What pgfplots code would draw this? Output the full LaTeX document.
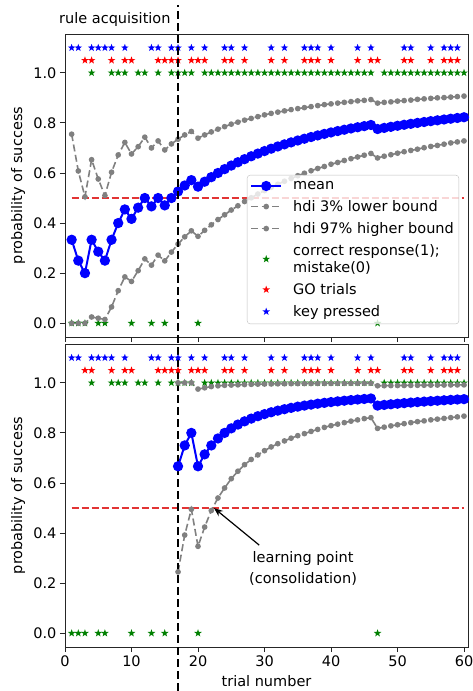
\documentclass[border=0pt]{standalone}
\usepackage{fontspec}
\setmainfont{DejaVu Sans}
\usepackage{pgfplots}
\usepackage{pgfplotstable}
\pgfplotsset{compat=1.18}
\usetikzlibrary{arrows.meta}

\definecolor{mblue}{HTML}{0000FF}
\definecolor{mred}{HTML}{FF0000}
\definecolor{mgreen}{HTML}{008000}
\definecolor{mgray}{HTML}{808080}
\definecolor{hred}{HTML}{E23434}

\newcommand\fs{\fontsize{14.5}{17}\selectfont}

% filled five-pointed star, like matplotlib's '*'
\pgfdeclareplotmark{fstar}{%
  \pgfpathmoveto{\pgfpointpolar{90}{\pgfplotmarksize}}%
  \pgfpathlineto{\pgfpointpolar{126}{0.4\pgfplotmarksize}}%
  \pgfpathlineto{\pgfpointpolar{162}{\pgfplotmarksize}}%
  \pgfpathlineto{\pgfpointpolar{198}{0.4\pgfplotmarksize}}%
  \pgfpathlineto{\pgfpointpolar{234}{\pgfplotmarksize}}%
  \pgfpathlineto{\pgfpointpolar{270}{0.4\pgfplotmarksize}}%
  \pgfpathlineto{\pgfpointpolar{306}{\pgfplotmarksize}}%
  \pgfpathlineto{\pgfpointpolar{342}{0.4\pgfplotmarksize}}%
  \pgfpathlineto{\pgfpointpolar{18}{\pgfplotmarksize}}%
  \pgfpathlineto{\pgfpointpolar{54}{0.4\pgfplotmarksize}}%
  \pgfpathclose
  \pgfusepathqfill
}

% all trials: mean and 94% hdi
\pgfplotstableread{
x mean lo hi
1 0.3333 0.000 0.755
2 0.2500 0.000 0.608
3 0.2000 0.000 0.505
4 0.3333 0.025 0.653
5 0.2857 0.020 0.576
6 0.2500 0.015 0.510
7 0.3333 0.065 0.603
8 0.4000 0.130 0.672
9 0.4545 0.185 0.722
10 0.4167 0.167 0.676
11 0.4615 0.210 0.705
12 0.5000 0.257 0.743
13 0.4667 0.232 0.700
14 0.5000 0.272 0.728
15 0.4706 0.249 0.692
16 0.5000 0.284 0.716
17 0.5263 0.316 0.735
18 0.5500 0.345 0.752
19 0.5714 0.369 0.766
20 0.5455 0.347 0.739
21 0.5652 0.371 0.752
22 0.5833 0.393 0.764
23 0.6000 0.414 0.775
24 0.6154 0.433 0.785
25 0.6296 0.452 0.795
26 0.6429 0.469 0.803
27 0.6552 0.486 0.811
28 0.6667 0.501 0.818
29 0.6774 0.516 0.825
30 0.6875 0.530 0.832
31 0.6970 0.543 0.838
32 0.7059 0.555 0.843
33 0.7143 0.567 0.848
34 0.7222 0.578 0.853
35 0.7297 0.589 0.857
36 0.7368 0.599 0.861
37 0.7436 0.609 0.865
38 0.7500 0.618 0.869
39 0.7561 0.626 0.873
40 0.7619 0.635 0.876
41 0.7674 0.642 0.879
42 0.7727 0.650 0.882
43 0.7778 0.657 0.885
44 0.7826 0.664 0.888
45 0.7872 0.671 0.890
46 0.7917 0.678 0.893
47 0.7755 0.660 0.879
48 0.7800 0.667 0.882
49 0.7843 0.673 0.884
50 0.7885 0.679 0.887
51 0.7925 0.685 0.889
52 0.7963 0.690 0.891
53 0.8000 0.695 0.894
54 0.8036 0.701 0.896
55 0.8070 0.706 0.898
56 0.8103 0.710 0.900
57 0.8136 0.715 0.901
58 0.8167 0.720 0.903
59 0.8197 0.724 0.905
60 0.8226 0.728 0.907
}\toptab

% from trial 17 on
\pgfplotstableread{
x mean lo hi
17 0.6667 0.245 1.000
18 0.7500 0.392 1.000
19 0.8000 0.495 1.000
20 0.6667 0.347 0.975
21 0.7143 0.424 0.980
22 0.7500 0.490 0.985
23 0.7778 0.540 0.988
24 0.8000 0.580 0.990
25 0.8182 0.617 0.991
26 0.8333 0.647 0.992
27 0.8462 0.673 0.993
28 0.8571 0.694 0.994
29 0.8667 0.712 0.9947
30 0.8750 0.729 0.9952
31 0.8824 0.744 0.9955
32 0.8889 0.757 0.9960
33 0.8947 0.768 0.9963
34 0.9000 0.779 0.9966
35 0.9048 0.789 0.9968
36 0.9091 0.797 0.9970
37 0.9130 0.806 0.9972
38 0.9167 0.814 0.9974
39 0.9200 0.822 0.9975
40 0.9231 0.829 0.9976
41 0.9259 0.835 0.9977
42 0.9286 0.841 0.9978
43 0.9310 0.847 0.9979
44 0.9333 0.852 0.9980
45 0.9355 0.857 0.9981
46 0.9375 0.861 0.9982
47 0.9091 0.818 0.9882
48 0.9118 0.823 0.9885
49 0.9143 0.828 0.9888
50 0.9167 0.8325 0.9891
51 0.9189 0.837 0.9894
52 0.9211 0.841 0.9897
53 0.9231 0.845 0.9900
54 0.9250 0.848 0.9903
55 0.9268 0.852 0.9906
56 0.9286 0.855 0.9909
57 0.9302 0.858 0.9912
58 0.9318 0.861 0.9914
59 0.9333 0.864 0.9916
60 0.9348 0.867 0.9918
}\bottab

% correct response (1) / mistake (0)
\pgfplotstableread{
x y
1 0
2 0
3 0
4 1
5 0
6 0
7 1
8 1
9 1
10 0
11 1
12 1
13 0
14 1
15 0
16 1
17 1
18 1
19 1
20 0
21 1
22 1
23 1
24 1
25 1
26 1
27 1
28 1
29 1
30 1
31 1
32 1
33 1
34 1
35 1
36 1
37 1
38 1
39 1
40 1
41 1
42 1
43 1
44 1
45 1
46 1
47 0
48 1
49 1
50 1
51 1
52 1
53 1
54 1
55 1
56 1
57 1
58 1
59 1
60 1
}\resptab

\pgfplotsset{
  panel/.style={
    width=403pt, height=303pt, scale only axis,
    xmin=0, xmax=60.6, ymin=-0.055, ymax=1.155,
    xtick={0,10,...,60},
    ytick={0,0.2,0.4,0.6,0.8,1.0},
    yticklabels={0.0,0.2,0.4,0.6,0.8,1.0},
    tick align=outside, major tick length=5pt, tick pos=left,
    axis line style={line width=0.9pt, black!85},
    tick style={line width=0.9pt, black!85},
    tick label style={font=\fs},
    ylabel={probability of success},
    every axis y label/.style={at={(axis description cs:-0.1166,0.5)}, rotate=90, anchor=center, font=\fs},
    clip=false,
    legend image code/.code={\draw[mark repeat=2,mark phase=2,##1] plot coordinates {(0pt,0pt) (15pt,0pt) (30pt,0pt)};},
  },
  meanline/.style={mblue, line width=2pt, mark=*, mark size=4.1pt, mark options={solid}},
  hdiline/.style={mgray, line width=1.6pt, dash pattern=on 7pt off 3.5pt, mark=*, mark size=2pt, mark options={solid}},
  starmark/.style={only marks, mark=fstar, mark size=4pt},
}

\newcommand{\starplots}{%
  \addplot[starmark, mgreen, forget plot] table[x=x, y=y] {\resptab};
  \addplot[starmark, mred, forget plot] coordinates {(3,1.05) (4,1.05) (7,1.05) (9,1.05) (10,1.05) (14,1.05) (15,1.05) (16,1.05) (17,1.05) (19,1.05) (20,1.05) (21,1.05) (24,1.05) (25,1.05) (27,1.05) (31,1.05) (33,1.05) (36,1.05) (37,1.05) (38,1.05) (40,1.05) (44,1.05) (46,1.05) (47,1.05) (51,1.05) (52,1.05) (55,1.05) (57,1.05) (58,1.05) (59,1.05)};
  \addplot[starmark, mblue, forget plot] coordinates {(1,1.1) (2,1.1) (4,1.1) (5,1.1) (6,1.1) (7,1.1) (9,1.1) (13,1.1) (14,1.1) (16,1.1) (17,1.1) (19,1.1) (21,1.1) (24,1.1) (25,1.1) (27,1.1) (31,1.1) (33,1.1) (36,1.1) (37,1.1) (38,1.1) (40,1.1) (44,1.1) (46,1.1) (51,1.1) (52,1.1) (55,1.1) (57,1.1) (58,1.1) (59,1.1)};
  \addplot[hred, line width=1.6pt, dash pattern=on 7pt off 3pt, forget plot] coordinates {(1,0.5) (60,0.5)};
}

\begin{document}
\begin{tikzpicture}
\path[use as bounding box] (0pt,0pt) rectangle (473pt,-691pt);

\begin{axis}[panel, at={(65pt,-34pt)}, anchor=north west,
  xticklabels={},
  legend style={at={(0.4516,0.5347)}, anchor=north west, font=\fs,
    draw=black!25, rounded corners=3pt, fill=white, fill opacity=0.8, text opacity=1,
    inner xsep=3pt, inner ysep=4pt, row sep=5.5pt,
    cells={align=left}, nodes={inner sep=2pt},
    /tikz/every odd column/.append style={column sep=9pt}},
  legend cell align=left,
  every legend image post/.append style={fill opacity=1, draw opacity=1},
]
\starplots
\addplot[meanline] table[x=x, y=mean] {\toptab};
\addlegendentry{mean}
\addplot[hdiline] table[x=x, y=lo] {\toptab};
\addlegendentry{hdi 3\% lower bound}
\addplot[hdiline] table[x=x, y=hi] {\toptab};
\addlegendentry{hdi 97\% higher bound}
\addlegendimage{starmark, mgreen}
\addlegendentry{correct response(1);\\mistake(0)}
\addlegendimage{starmark, mred}
\addlegendentry{GO trials}
\addlegendimage{starmark, mblue}
\addlegendentry{key pressed}
\node[font=\fs, anchor=east, inner sep=0pt] at (axis cs:15.9,1.212) {rule acquisition};
\end{axis}

\begin{axis}[panel, at={(65pt,-344pt)}, anchor=north west,
  xticklabels={0,10,20,30,40,50,60},
  xlabel={trial number},
  every axis x label/.style={at={(axis description cs:0.5,-0.112)}, anchor=center, font=\fs},
]
\starplots
\addplot[meanline] table[x=x, y=mean] {\bottab};
\addplot[hdiline] table[x=x, y=lo] {\bottab};
\addplot[hdiline] table[x=x, y=hi] {\bottab};
\node[font=\fs, align=center] at (axis cs:35.8,0.26) {learning point\\[4pt](consolidation)};
\draw[-{Stealth[length=9pt,width=7pt]}, line width=1.2pt] (axis cs:29.2,0.352) -- (axis cs:22.4,0.5);
\draw[black, line width=2.2pt, dash pattern=on 8pt off 4pt] (axis cs:17,-0.23) -- (axis cs:17,2.51);
\end{axis}
\end{tikzpicture}
\end{document}
